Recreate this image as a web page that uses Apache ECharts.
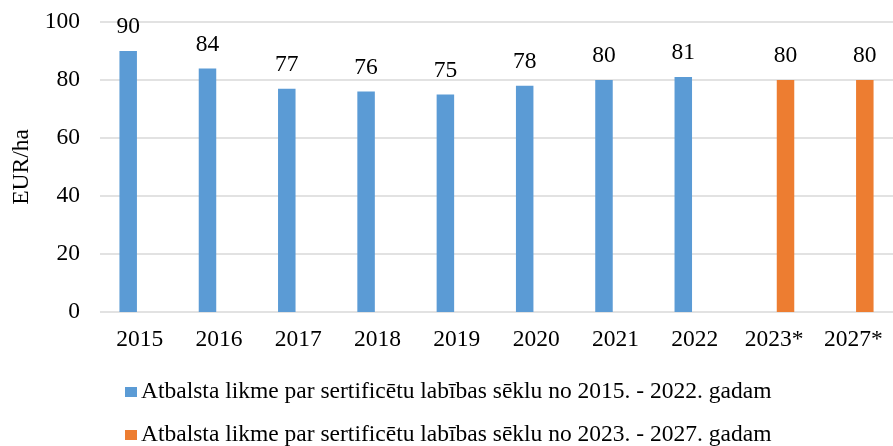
<!DOCTYPE html>
<html>
<head>
<meta charset="utf-8">
<script src="https://cdn.jsdelivr.net/npm/echarts@6/dist/echarts.min.js"></script>
<style>
  html, body { margin: 0; padding: 0; background: #fff; }
  #chart { width: 893px; height: 446px; }
</style>
</head>
<body>
<div id="chart"></div>
<script>
const years = ['2015', '2016', '2017', '2018', '2019', '2020', '2021', '2022', '2023*', '2027*'];
// 2015-2022 actual rates, 2023/2027 planned
const rate2015to2022 = [90, 84, 77, 76, 75, 78, 80, 81, null, null];
const rate2023to2027 = [null, null, null, null, null, null, null, null, 80, 80];
const seriesNames = [
  'Atbalsta likme par sertificētu labības sēklu no 2015. - 2022. gadam',
  'Atbalsta likme par sertificētu labības sēklu no 2023. - 2027. gadam'
];

const font = 'Liberation Serif';
const fs = 23.5;
const chart = echarts.init(document.getElementById('chart'));

const barLabel = {
  show: true,
  position: 'top',
  distance: 12,
  color: '#000',
  fontFamily: font,
  fontSize: fs
};

// one legend per row, so the long names stack like the original
function legendRow(name, top) {
  return {
    left: 125,
    top: top,
    padding: 0,
    itemWidth: 12,
    itemHeight: 10,
    itemGap: 0,
    icon: 'rect',
    textStyle: { fontFamily: font, fontSize: fs, color: '#000', padding: [0, 0, 0, -1] },
    data: [name]
  };
}

chart.setOption({
  animation: false,
  textStyle: { fontFamily: font },
  grid: { left: 100, top: 22, width: 803, bottom: 134 },
  legend: [
    legendRow(seriesNames[0], 380),
    legendRow(seriesNames[1], 423)
  ],
  xAxis: {
    type: 'category',
    data: years,
    axisLine: { show: false },
    axisTick: { show: false },
    axisLabel: { color: '#000', fontFamily: font, fontSize: fs, margin: 16 }
  },
  yAxis: {
    type: 'value',
    min: 0,
    max: 100,
    interval: 20,
    name: 'EUR/ha',
    nameLocation: 'middle',
    nameGap: 64,
    nameTextStyle: { color: '#000', fontFamily: font, fontSize: fs },
    axisLine: { show: false },
    axisTick: { show: false },
    axisLabel: { color: '#000', fontFamily: font, fontSize: fs, margin: 20 },
    splitLine: { lineStyle: { color: '#d9d9d9', width: 1.5 } }
  },
  series: [
    {
      name: seriesNames[0],
      type: 'bar',
      data: rate2015to2022,
      barWidth: 17.5,
      barGap: '31%',
      itemStyle: { color: '#5b9bd5' },
      label: barLabel
    },
    {
      name: seriesNames[1],
      type: 'bar',
      data: rate2023to2027,
      barWidth: 17.5,
      barGap: '31%',
      itemStyle: { color: '#ed7d31' },
      label: barLabel
    }
  ]
});
</script>
</body>
</html>
